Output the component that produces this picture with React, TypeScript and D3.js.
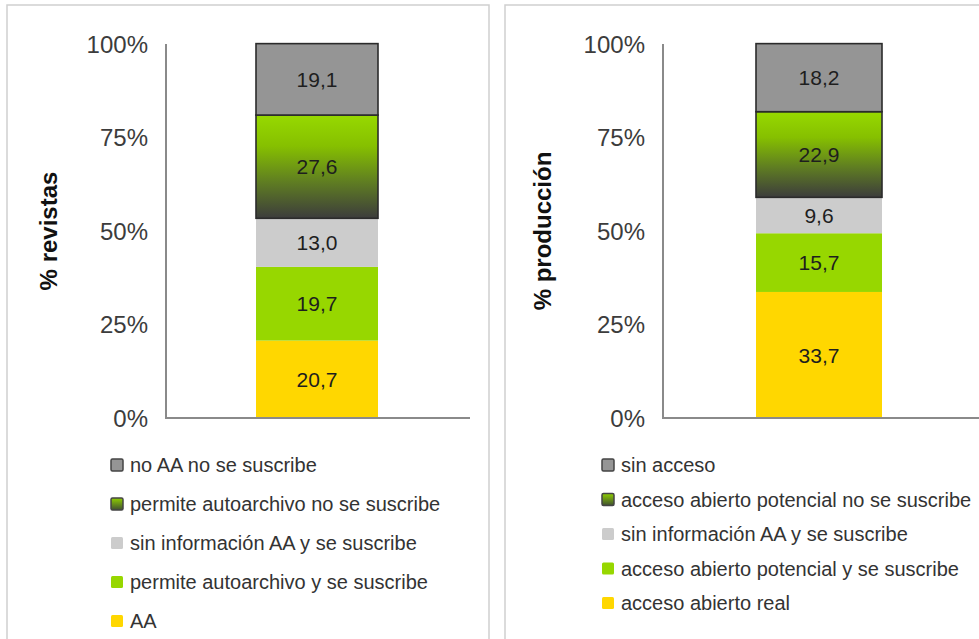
import React from 'react';
import * as d3 from 'd3';

// Series order: bottom of the stack first
const revistasLabels = [
  'AA',
  'permite autoarchivo y se suscribe',
  'sin información AA y se suscribe',
  'permite autoarchivo no se suscribe',
  'no AA no se suscribe',
];
const revistasValues = [20.7, 19.7, 13.0, 27.6, 19.1];

const produccionLabels = [
  'acceso abierto real',
  'acceso abierto potencial y se suscribe',
  'sin información AA y se suscribe',
  'acceso abierto potencial no se suscribe',
  'sin acceso',
];
const produccionValues = [33.7, 15.7, 9.6, 22.9, 18.2];

const yTicks = [0, 25, 50, 75, 100];

// fill + stroke per series (bottom first)
const seriesFills = ['#ffd700', '#97d700', '#cccccc', 'url(#greenGrad)', '#959595'];
const seriesStrokes = ['none', 'none', 'none', '#2b2b2b', '#2b2b2b'];

const FONT = 'Liberation Sans, Arial, sans-serif';

interface PanelProps {
  x0: number;
  width: number;
  axisX: number;
  axisEnd: number;
  barX0: number;
  barX1: number;
  labelX: number;
  yLabel: string;
  values: number[];
  labels: string[];
  legendX: number;
  legendY: number;
  legendStep: number;
}

const Panel: React.FC<PanelProps> = ({
  x0, width, axisX, axisEnd, barX0, barX1, labelX, yLabel, values, labels, legendX, legendY, legendStep,
}) => {
  const y = d3.scaleLinear().domain([0, 100]).range([418, 44]);
  const stacked = values.map((v, i) => {
    const start = d3.sum(values.slice(0, i));
    return { v, i, y0: start, y1: start + v };
  });
  const fmt = (v: number) => v.toFixed(1).replace('.', ',');
  const legendOrder = d3.range(labels.length).reverse();

  return (
    <g>
      <rect x={x0} y={5} width={width} height={660} fill="#fff" stroke="#cfcfcf" strokeWidth={1.5} />
      {/* y tick labels */}
      {yTicks.map(t => (
        <text key={t} x={axisX - 18} y={y(t)} dy="0.36em" textAnchor="end"
          fontFamily={FONT} fontSize={24} fill="#3c3c3c">{t}%</text>
      ))}
      {/* bars */}
      {stacked.map(s => (
        <g key={s.i}>
          <rect x={barX0} y={y(s.y1)} width={barX1 - barX0} height={y(s.y0) - y(s.y1)}
            fill={seriesFills[s.i]} stroke={seriesStrokes[s.i]} strokeWidth={1.6} />
          <text x={(barX0 + barX1) / 2} y={(y(s.y0) + y(s.y1)) / 2} dy="0.36em" textAnchor="middle"
            fontFamily={FONT} fontSize={21} fill="#1e1e1e">{fmt(s.v)}</text>
        </g>
      ))}
      {/* axes */}
      <line x1={axisX} x2={axisX} y1={44} y2={419} stroke="#8a8a8a" strokeWidth={2} />
      <line x1={axisX} x2={axisEnd} y1={418} y2={418} stroke="#8a8a8a" strokeWidth={2} />
      {/* y label */}
      <text transform={`translate(${labelX},${(y(0) + y(100)) / 2}) rotate(-90)`}
        textAnchor="middle" dy="0.36em" fontFamily={FONT} fontSize={24} fontWeight="bold" fill="#111">
        {yLabel}
      </text>
      {/* legend */}
      {legendOrder.map((si, k) => (
        <g key={si} transform={`translate(${legendX},${legendY + k * legendStep})`}>
          <rect x={0} y={-6} width={12} height={12} rx={1.5}
            fill={seriesFills[si] === 'url(#greenGrad)' ? 'url(#greenGradSmall)' : seriesFills[si]}
            stroke={seriesStrokes[si] === 'none' ? 'none' : '#444'} strokeWidth={1.5} />
          <text x={19} y={0} dy="0.36em" fontFamily={FONT} fontSize={20} fill="#333">{labels[si]}</text>
        </g>
      ))}
    </g>
  );
};

export default function App() {
  return (
    <svg width={979} height={639} style={{ position: 'absolute', left: 0, top: 0, display: 'block' }}>
      <defs>
        <linearGradient id="greenGrad" x1="0" y1="0" x2="0" y2="1">
          <stop offset="0" stopColor="#97d900" />
          <stop offset="0.3" stopColor="#86c000" />
          <stop offset="0.65" stopColor="#5f7d22" />
          <stop offset="1" stopColor="#3c3c3c" />
        </linearGradient>
        <linearGradient id="greenGradSmall" x1="0" y1="0" x2="0" y2="1">
          <stop offset="0" stopColor="#8fd000" />
          <stop offset="1" stopColor="#405030" />
        </linearGradient>
      </defs>
      <rect width={979} height={639} fill="#fff" />
      <Panel x0={7} width={482} axisX={166} axisEnd={470} barX0={256} barX1={378} labelX={48}
        yLabel="% revistas" values={revistasValues} labels={revistasLabels}
        legendX={111} legendY={465} legendStep={39} />
      <Panel x0={505} width={500} axisX={663} axisEnd={979} barX0={756} barX1={882} labelX={542}
        yLabel="% producción" values={produccionValues} labels={produccionLabels}
        legendX={602} legendY={465} legendStep={34.5} />
    </svg>
  );
}
